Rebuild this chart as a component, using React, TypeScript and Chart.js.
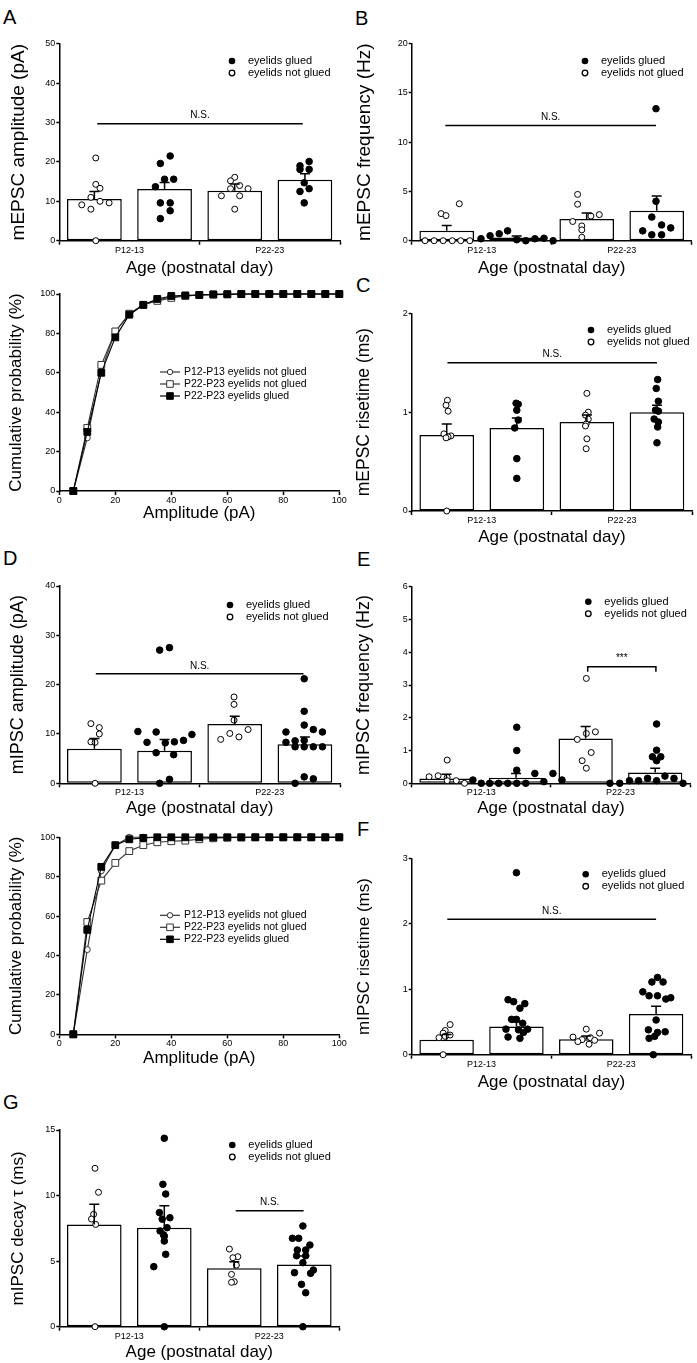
import React, { useEffect, useRef } from 'react';
import { Chart, registerables } from 'chart.js';
Chart.register(...registerables);

type Pt = [number, number];
type Area = { x0: number; x1: number; y0: number; y1: number };
type Sig = { from: number; to: number; level: number; label: string; bracket?: boolean };

const PAGE_W = 697;
const PAGE_H = 1363;
const FONT = "'Liberation Sans', Arial, Helvetica, sans-serif";
const TITLE_SIZE = 17;
const TITLE_HALF = (TITLE_SIZE * 1.2) / 2;

// ---------- shared ----------
const barPositions = [0.5, 1.5, 2.5, 3.5];
const ageTickLabels = ['P12-13', 'P22-23'];
const ageTitle = 'Age (postnatal day)';
const legendLabels = ['eyelids glued', 'eyelids not glued'];
const cumLegendLabels = ['P12-P13 eyelids not glued', 'P22-P23 eyelids not glued', 'P22-P23 eyelids glued'];

// ---------- A: mEPSC amplitude ----------
const aMeans = [10.6, 13.1, 12.7, 15.5];
const aSems = [1.9, 1.7, 1.7, 1.5];
const aNotGlued: Pt[] = [[0.52, 21.0], [0.52, 14.3], [0.58, 13.3], [0.45, 11.0], [0.58, 10.0], [0.71, 9.6], [0.32, 9.1], [0.45, 8.0], [0.52, 0],
  [2.50, 16.1], [2.44, 15.2], [2.57, 14.0], [2.44, 13.2], [2.69, 13.2], [2.31, 11.4], [2.57, 11.4], [2.50, 8.0]];
const aGlued: Pt[] = [[1.58, 21.5], [1.44, 19.6], [1.63, 15.6], [1.50, 15.6], [1.37, 13.7], [1.44, 9.6], [1.58, 9.6], [1.58, 7.6], [1.44, 5.6],
  [3.56, 20.1], [3.43, 19.0], [3.43, 18.1], [3.56, 18.1], [3.49, 14.7], [3.56, 13.2], [3.43, 12.5], [3.49, 9.6]];
const aSig: Sig = { from: 0.54, to: 3.47, level: 29.7, label: 'N.S.' };

// ---------- B: mEPSC frequency ----------
const bMeans = [1.0, 0.33, 2.2, 3.05];
const bSems = [0.55, 0.15, 0.6, 1.5];
const bNotGlued: Pt[] = [[0.19, 0], [0.32, 0], [0.45, 0], [0.58, 0], [0.70, 0], [0.83, 0], [0.42, 2.75], [0.49, 2.55], [0.68, 3.75],
  [2.37, 4.7], [2.37, 3.7], [2.30, 1.95], [2.43, 1.5], [2.43, 1.1], [2.56, 2.5], [2.68, 2.65], [2.43, 0.35]];
const bGlued: Pt[] = [[0.99, 0.2], [1.12, 0.5], [1.25, 0.7], [1.37, 1.0], [1.50, 0.1], [1.63, 0], [1.76, 0.2], [1.89, 0.25], [2.02, 0],
  [3.49, 13.4], [3.49, 4.0], [3.43, 2.4], [3.57, 1.6], [3.70, 1.3], [3.30, 1.0], [3.43, 0.6], [3.57, 0.6]];
const bSig: Sig = { from: 0.48, to: 3.49, level: 11.7, label: 'N.S.' };

// ---------- C: mEPSC risetime ----------
const cMeans = [0.77, 0.84, 0.90, 1.0];
const cSems = [0.11, 0.1, 0.07, 0.07];
const cNotGlued: Pt[] = [[0.51, 1.12], [0.49, 1.07], [0.52, 1.01], [0.46, 0.78], [0.56, 0.76], [0.52, 0.75], [0.49, 0.74], [0.50, 0],
  [2.50, 1.19], [2.52, 1.0], [2.48, 0.97], [2.52, 0.93], [2.49, 0.88], [2.48, 0.86], [2.50, 0.73], [2.49, 0.63]];
const cGlued: Pt[] = [[1.49, 1.09], [1.52, 1.08], [1.50, 1.02], [1.52, 0.92], [1.47, 0.84], [1.50, 0.53], [1.50, 0.33],
  [3.51, 1.33], [3.49, 1.24], [3.52, 1.11], [3.48, 1.02], [3.52, 1.01], [3.46, 0.93], [3.52, 0.90], [3.51, 0.85], [3.50, 0.69]];
const cSig: Sig = { from: 0.51, to: 3.5, level: 1.5, label: 'N.S.' };

// ---------- D: mIPSC amplitude ----------
const dMeans = [7.0, 6.6, 12.0, 7.9];
const dSems = [2.1, 2.3, 1.6, 1.5];
const dNotGlued: Pt[] = [[0.45, 12.1], [0.57, 11.3], [0.57, 10.0], [0.45, 8.4], [0.51, 8.3], [0.51, 0],
  [2.49, 17.5], [2.49, 16.0], [2.49, 12.8], [2.30, 8.9], [2.43, 10.1], [2.56, 9.4], [2.69, 10.9]];
const dGlued: Pt[] = [[1.12, 10.5], [1.38, 10.4], [1.25, 8.3], [1.51, 8.2], [1.64, 8.4], [1.77, 8.7], [1.89, 9.9], [1.38, 6.2], [1.63, 5.8],
  [1.57, 0.8], [1.43, 0], [1.43, 27.0], [1.57, 27.5],
  [3.49, 21.2], [3.49, 14.6], [3.23, 10.4], [3.49, 11.8], [3.62, 10.9], [3.75, 10.4], [3.23, 8.3], [3.36, 8.6], [3.49, 8.7],
  [3.36, 7.4], [3.49, 7.4], [3.62, 7.4], [3.75, 7.4], [3.49, 1.3], [3.62, 0.9], [3.36, 0]];
const dSig: Sig = { from: 0.52, to: 3.48, level: 22.2, label: 'N.S.' };

// ---------- E: mIPSC frequency ----------
const eMeans = [0.15, 0.17, 1.37, 0.33];
const eSems = [0.13, 0.13, 0.36, 0.13];
const eNotGlued: Pt[] = [[0.51, 0.71], [0.25, 0.2], [0.38, 0.23], [0.51, 0.18], [0.51, 0.08], [0.64, 0.08], [0.76, 0],
  [2.51, 3.2], [2.64, 1.57], [2.51, 1.52], [2.38, 1.34], [2.58, 0.94], [2.45, 0.69], [2.51, 0.46]];
const eGlued: Pt[] = [[0.88, 0.1], [1.0, 0], [1.12, 0], [1.25, 0], [1.38, 0], [1.51, 0], [1.64, 0], [1.51, 1.71], [1.51, 1.0], [1.51, 0.4],
  [1.77, 0.3], [1.9, 0.05], [2.03, 0.3], [2.16, 0.1],
  [2.85, 0], [2.99, 0], [3.13, 0.08], [3.26, 0.08], [3.39, 0.15], [3.52, 0.08], [3.64, 0.22], [3.77, 0.15], [3.90, 0],
  [3.52, 1.81], [3.52, 1.01], [3.46, 0.81], [3.58, 0.81], [3.52, 0.69]];
const eSig: Sig = { from: 2.53, to: 3.51, level: 3.56, label: '***', bracket: true };

// ---------- F: mIPSC risetime ----------
const fMeans = [0.23, 0.43, 0.235, 0.62];
const fSems = [0.08, 0.07, 0.05, 0.12];
const fNotGlued: Pt[] = [[0.55, 0.46], [0.48, 0.37], [0.45, 0.33], [0.55, 0.30], [0.39, 0.26], [0.48, 0.28], [0.45, 0],
  [2.50, 0.39], [2.31, 0.27], [2.44, 0.23], [2.56, 0.26], [2.69, 0.33], [2.38, 0.2], [2.54, 0.16], [2.62, 0.22]];
const fGlued: Pt[] = [[1.38, 0.84], [1.46, 0.81], [1.62, 0.78], [1.55, 0.71], [1.43, 0.54], [1.50, 0.54], [1.59, 0.48], [1.35, 0.39],
  [1.53, 0.38], [1.60, 0.34], [1.66, 0.39], [1.38, 0.27], [1.55, 0.25], [1.50, 2.78],
  [3.52, 1.18], [3.44, 1.11], [3.60, 1.11], [3.31, 0.96], [3.40, 0.90], [3.52, 0.90], [3.71, 0.87], [3.64, 0.85], [3.50, 0.53],
  [3.39, 0.38], [3.52, 0.34], [3.63, 0.35], [3.48, 0.28], [3.40, 0.25], [3.46, 0]];
const fSig: Sig = { from: 0.51, to: 3.5, level: 2.07, label: 'N.S.' };

// ---------- G: mIPSC decay tau ----------
const gMeans = [7.8, 7.55, 4.45, 4.75];
const gSems = [1.53, 1.68, 0.51, 0.64];
const gNotGlued: Pt[] = [[0.51, 12.08], [0.56, 10.25], [0.49, 8.57], [0.46, 8.21], [0.52, 7.8], [0.51, 0],
  [2.43, 5.92], [2.55, 5.34], [2.48, 5.26], [2.53, 4.7], [2.46, 3.99], [2.50, 3.43], [2.46, 3.38]];
const gGlued: Pt[] = [[1.50, 14.37], [1.48, 10.86], [1.52, 10.12], [1.43, 8.7], [1.58, 8.31], [1.47, 8.2], [1.54, 7.55], [1.44, 7.3],
  [1.49, 7.0], [1.50, 6.9], [1.50, 6.53], [1.52, 5.52], [1.35, 4.58], [1.50, 0],
  [3.48, 7.68], [3.33, 6.74], [3.42, 6.74], [3.58, 6.23], [3.40, 5.85], [3.52, 5.85], [3.52, 5.41], [3.39, 5.41], [3.48, 4.88],
  [3.63, 4.32], [3.36, 4.12], [3.59, 4.07], [3.46, 3.23], [3.52, 2.59], [3.48, 0]];
const gSig: Sig = { from: 2.52, to: 3.49, level: 8.85, label: 'N.S.' };

// ---------- cumulative probability ----------
const ampBins = [5, 10, 15, 20, 25, 30, 35, 40, 45, 50, 55, 60, 65, 70, 75, 80, 85, 90, 95, 100];
const cumA_P12NotGlued = [0, 27, 61, 81, 89.5, 94.5, 97, 98.5, 99, 99.5, 99.8, 100, 100, 100, 100, 100, 100, 100, 100, 100];
const cumA_P22NotGlued = [0, 32, 64, 81, 90, 94.5, 96.5, 98, 99, 99.5, 99.7, 99.8, 99.9, 100, 100, 100, 100, 100, 100, 100];
const cumA_P22Glued = [0, 30, 60, 78, 89.5, 94.5, 97.5, 99, 99.3, 99.5, 99.8, 99.9, 100, 100, 100, 100, 100, 100, 100, 100];
const cumD_P12NotGlued = [0, 43, 83, 96, 100, 100, 100, 100, 100, 100, 100, 100, 100, 100, 100, 100, 100, 100, 100, 100];
const cumD_P22NotGlued = [0, 57, 78, 87, 93, 96, 97.5, 98, 98.3, 99, 99.5, 99.8, 99.9, 100, 100, 100, 100, 100, 100, 100];
const cumD_P22Glued = [0, 53, 85, 96, 99, 99.7, 100, 100, 100, 100, 100, 100, 100, 100, 100, 100, 100, 100, 100, 100];

function canvasBox(area: Area, xTitleY: number, yTitleX: number, yTitleSize: number) {
  const yHalf = (yTitleSize * 1.2) / 2;
  const cl = Math.round(yTitleX - yHalf);
  const ct = Math.round(area.y0 - 12);
  const cr = Math.min(Math.round(area.x1 + 10), PAGE_W);
  const cb = Math.min(Math.round(xTitleY + TITLE_HALF + 1), PAGE_H);
  return {
    cl, ct, cr, cb,
    padding: { left: 0, top: area.y0 - ct, right: cr - area.x1, bottom: Math.max(0, cb - (xTitleY + TITLE_HALF)) },
    yWidth: area.x0 - cl,
    xHeight: xTitleY + TITLE_HALF - area.y1,
  };
}

const axisBorder = { display: true, color: '#000', width: 1.5 };
function titleOpts(text: string, size: number) {
  return { display: true, text, color: '#000', font: { family: FONT, size }, padding: 0 };
}

function BarPanel(props: {
  area: Area; xTitleY: number; yTitleX: number; yTitleSize: number; yMax: number; yStep: number; yTitle: string;
  means: number[]; sems: number[]; notGlued: Pt[]; glued: Pt[]; sig: Sig; legendAt: [number, number];
}) {
  const ref = useRef<HTMLCanvasElement>(null);
  const { area, xTitleY, yTitleX, yTitleSize, yMax, yStep, yTitle, means, sems, notGlued, glued, sig, legendAt } = props;
  const box = canvasBox(area, xTitleY, yTitleX, yTitleSize);
  const W = box.cr - box.cl;
  const H = box.cb - box.ct;

  useEffect(() => {
    const extras = {
      id: 'extras',
      afterDatasetsDraw(chart: any) {
        const { ctx, scales, chartArea } = chart;
        const x = scales.x, y = scales.y;
        ctx.save();
        ctx.strokeStyle = '#000';
        ctx.fillStyle = '#000';
        ctx.lineWidth = 1.5;
        means.forEach((m, i) => {
          const px = x.getPixelForValue(barPositions[i]);
          const py0 = y.getPixelForValue(m);
          const py1 = y.getPixelForValue(m + sems[i]);
          ctx.beginPath();
          ctx.moveTo(px, py0);
          ctx.lineTo(px, py1);
          ctx.moveTo(px - 5, py1);
          ctx.lineTo(px + 5, py1);
          ctx.stroke();
        });
        const sx1 = x.getPixelForValue(sig.from);
        const sx2 = x.getPixelForValue(sig.to);
        const sy = y.getPixelForValue(sig.level);
        ctx.beginPath();
        if (sig.bracket) {
          ctx.moveTo(sx1, sy + 5);
          ctx.lineTo(sx1, sy);
          ctx.lineTo(sx2, sy);
          ctx.lineTo(sx2, sy + 5);
        } else {
          ctx.moveTo(sx1, sy);
          ctx.lineTo(sx2, sy);
        }
        ctx.stroke();
        ctx.font = `10px ${FONT}`;
        ctx.textAlign = 'center';
        ctx.textBaseline = 'bottom';
        ctx.fillText(sig.label, (sx1 + sx2) / 2, sy - 3);
        const lx = chartArea.left + legendAt[0];
        const ly = chartArea.top + legendAt[1];
        ctx.font = `11px ${FONT}`;
        ctx.textAlign = 'left';
        ctx.textBaseline = 'middle';
        ctx.beginPath();
        ctx.arc(lx, ly, 3.3, 0, Math.PI * 2);
        ctx.fill();
        ctx.fillText(legendLabels[0], lx + 16, ly);
        ctx.beginPath();
        ctx.lineWidth = 1.3;
        ctx.arc(lx, ly + 12, 2.8, 0, Math.PI * 2);
        ctx.stroke();
        ctx.fillText(legendLabels[1], lx + 16, ly + 12);
        ctx.restore();
      },
    };

    const chart = new Chart(ref.current as HTMLCanvasElement, {
      type: 'bar',
      data: {
        datasets: [
          {
            type: 'scatter',
            data: glued.map(([px, py]) => ({ x: px, y: py })),
            pointRadius: 3.3,
            pointBackgroundColor: '#000',
            pointBorderColor: '#000',
            pointBorderWidth: 1,
            showLine: false,
            clip: false,
            order: 1,
          } as any,
          {
            type: 'scatter',
            data: notGlued.map(([px, py]) => ({ x: px, y: py })),
            pointRadius: 3,
            pointBackgroundColor: '#fff',
            pointBorderColor: '#000',
            pointBorderWidth: 1,
            showLine: false,
            clip: false,
            order: 2,
          } as any,
          {
            type: 'bar',
            data: barPositions.map((px, i) => ({ x: px, y: means[i] })),
            backgroundColor: '#fff',
            borderColor: '#000',
            borderWidth: 1.5,
            borderSkipped: false,
            barPercentage: 0.78,
            categoryPercentage: 1,
            order: 5,
          } as any,
        ],
      },
      options: {
        animation: false,
        responsive: false,
        maintainAspectRatio: false,
        events: [],
        layout: { padding: box.padding },
        plugins: { legend: { display: false }, tooltip: { enabled: false } },
        scales: {
          x: {
            type: 'linear',
            min: 0,
            max: 4,
            offset: false,
            grid: {
              display: true, drawOnChartArea: false, drawTicks: true, tickLength: 4, offset: false, tickWidth: 1.5,
              color: '#000',
              tickColor: (c: any) => (c.tick && (c.tick.value === 1 || c.tick.value === 3)) ? 'rgba(0,0,0,0)' : '#000',
            },
            border: axisBorder,
            ticks: {
              stepSize: 1, autoSkip: false, maxRotation: 0, minRotation: 0, padding: 0, color: '#000',
              font: { family: FONT, size: 9 },
              callback: (v: any) => (v === 1 ? ageTickLabels[0] : v === 3 ? ageTickLabels[1] : ''),
            },
            title: titleOpts(ageTitle, TITLE_SIZE),
            afterFit: (s: any) => { s.height = box.xHeight; },
          },
          y: {
            type: 'linear',
            min: 0,
            max: yMax,
            grid: { display: true, drawOnChartArea: false, drawTicks: true, tickLength: 3, color: '#000', tickColor: '#000', tickWidth: 1.5 },
            border: axisBorder,
            ticks: { stepSize: yStep, padding: 1, color: '#000', font: { family: FONT, size: 9 } },
            title: titleOpts(yTitle, yTitleSize),
            afterFit: (s: any) => { s.width = box.yWidth; },
          },
        },
      } as any,
      plugins: [extras],
    });
    return () => chart.destroy();
  }, []);

  return (
    <canvas
      ref={ref}
      width={W}
      height={H}
      style={{ position: 'absolute', left: box.cl, top: box.ct, width: W, height: H }}
    />
  );
}

function CumPanel(props: {
  area: Area; xTitleY: number; yTitleX: number; p12NotGlued: number[]; p22NotGlued: number[]; p22Glued: number[];
}) {
  const ref = useRef<HTMLCanvasElement>(null);
  const { area, xTitleY, yTitleX, p12NotGlued, p22NotGlued, p22Glued } = props;
  const box = canvasBox(area, xTitleY, yTitleX, TITLE_SIZE);
  const W = box.cr - box.cl;
  const H = box.cb - box.ct;

  useEffect(() => {
    const styles = [
      { color: '#333', shape: 'circle', fill: '#fff' },
      { color: '#333', shape: 'rect', fill: '#fff' },
      { color: '#000', shape: 'rect', fill: '#000' },
    ];
    const legendPlugin = {
      id: 'cumLegend',
      afterDraw(chart: any) {
        const { ctx, chartArea } = chart;
        ctx.save();
        ctx.font = `10.5px ${FONT}`;
        ctx.textAlign = 'left';
        ctx.textBaseline = 'middle';
        cumLegendLabels.forEach((label, i) => {
          const y = chartArea.top + 78 + 12 * i;
          const x0 = chartArea.left + 100.7;
          const st = styles[i];
          ctx.strokeStyle = st.color;
          ctx.lineWidth = 1.2;
          ctx.beginPath();
          ctx.moveTo(x0, y);
          ctx.lineTo(x0 + 20, y);
          ctx.stroke();
          ctx.fillStyle = st.fill;
          ctx.lineWidth = 1;
          ctx.beginPath();
          if (st.shape === 'circle') ctx.arc(x0 + 10, y, 2.7, 0, Math.PI * 2);
          else ctx.rect(x0 + 10 - 3.3, y - 3.3, 6.6, 6.6);
          ctx.fill();
          ctx.stroke();
          ctx.fillStyle = '#000';
          ctx.fillText(label, x0 + 24, y);
        });
        ctx.restore();
      },
    };
    const mk = (vals: number[], i: number, order: number) => ({
      data: ampBins.map((b, k) => ({ x: b, y: vals[k] })),
      borderColor: styles[i].color,
      borderWidth: 1.1,
      pointStyle: styles[i].shape,
      pointRadius: styles[i].shape === 'rect' ? 4.8 : 3,
      pointBackgroundColor: styles[i].fill,
      pointBorderColor: styles[i].color,
      pointBorderWidth: 1,
      tension: 0,
      clip: false,
      order,
    });
    const chart = new Chart(ref.current as HTMLCanvasElement, {
      type: 'line',
      data: {
        datasets: [mk(p12NotGlued, 0, 3), mk(p22NotGlued, 1, 2), mk(p22Glued, 2, 1)] as any,
      },
      options: {
        animation: false,
        responsive: false,
        maintainAspectRatio: false,
        events: [],
        layout: { padding: box.padding },
        plugins: { legend: { display: false }, tooltip: { enabled: false } },
        scales: {
          x: {
            type: 'linear', min: 0, max: 100,
            grid: { display: true, drawOnChartArea: false, drawTicks: true, tickLength: 4, color: '#000', tickColor: '#000', tickWidth: 1.5 },
            border: axisBorder,
            ticks: { stepSize: 20, autoSkip: false, maxRotation: 0, padding: 0, color: '#000', font: { family: FONT, size: 9 } },
            title: titleOpts('Amplitude (pA)', TITLE_SIZE),
            afterFit: (s: any) => { s.height = box.xHeight; },
          },
          y: {
            type: 'linear', min: 0, max: 100,
            grid: { display: true, drawOnChartArea: false, drawTicks: true, tickLength: 3, color: '#000', tickColor: '#000', tickWidth: 1.5 },
            border: axisBorder,
            ticks: { stepSize: 20, padding: 1, color: '#000', font: { family: FONT, size: 9 } },
            title: titleOpts('Cumulative probability (%)', TITLE_SIZE),
            afterFit: (s: any) => { s.width = box.yWidth; },
          },
        },
      } as any,
      plugins: [legendPlugin],
    });
    return () => chart.destroy();
  }, []);

  return (
    <canvas
      ref={ref}
      width={W}
      height={H}
      style={{ position: 'absolute', left: box.cl, top: box.ct, width: W, height: H }}
    />
  );
}

function Letter({ text, left, top }: { text: string; left: number; top: number }) {
  return (
    <div style={{ position: 'absolute', left, top, fontFamily: FONT, fontSize: 20, lineHeight: '20px', color: '#000' }}>
      {text}
    </div>
  );
}

export default function App() {
  return (
    <div style={{ position: 'absolute', left: 0, top: 0, width: PAGE_W, height: PAGE_H, overflow: 'hidden', background: '#fff' }}>
      <Letter text="A" left={3} top={7} />
      <Letter text="B" left={355} top={8} />
      <Letter text="C" left={356} top={275} />
      <Letter text="D" left={3} top={548} />
      <Letter text="E" left={357} top={549} />
      <Letter text="F" left={357} top={819} />
      <Letter text="G" left={3} top={1092} />

      <BarPanel area={{ x0: 59.3, x1: 340, y0: 43.7, y1: 240.7 }} xTitleY={268.3} yTitleX={18} yTitleSize={19} yMax={50} yStep={10}
        yTitle="mEPSC amplitude (pA)" means={aMeans} sems={aSems} notGlued={aNotGlued} glued={aGlued} sig={aSig} legendAt={[172.7, 17.3]} />
      <BarPanel area={{ x0: 411.7, x1: 691.7, y0: 43.7, y1: 240.7 }} xTitleY={268.3} yTitleX={364} yTitleSize={19} yMax={20} yStep={5}
        yTitle="mEPSC frequency (Hz)" means={bMeans} sems={bSems} notGlued={bNotGlued} glued={bGlued} sig={bSig} legendAt={[173.3, 17.3]} />
      <CumPanel area={{ x0: 59.3, x1: 339.3, y0: 294, y1: 491 }} xTitleY={513.3} yTitleX={16}
        p12NotGlued={cumA_P12NotGlued} p22NotGlued={cumA_P22NotGlued} p22Glued={cumA_P22Glued} />
      <BarPanel area={{ x0: 411.7, x1: 692.7, y0: 313.3, y1: 511 }} xTitleY={537.3} yTitleX={364} yTitleSize={17.5} yMax={2} yStep={1}
        yTitle="mEPSC risetime (ms)" means={cMeans} sems={cSems} notGlued={cNotGlued} glued={cGlued} sig={cSig} legendAt={[179.3, 16.7]} />
      <BarPanel area={{ x0: 59.3, x1: 340, y0: 586, y1: 783.3 }} xTitleY={808.3} yTitleX={18} yTitleSize={18} yMax={40} yStep={10}
        yTitle="mIPSC amplitude (pA)" means={dMeans} sems={dSems} notGlued={dNotGlued} glued={dGlued} sig={dSig} legendAt={[170.7, 19]} />
      <BarPanel area={{ x0: 411.7, x1: 690, y0: 586.7, y1: 783.3 }} xTitleY={808.3} yTitleX={364} yTitleSize={18} yMax={6} yStep={1}
        yTitle="mIPSC frequency (Hz)" means={eMeans} sems={eSems} notGlued={eNotGlued} glued={eGlued} sig={eSig} legendAt={[176.6, 15]} />
      <CumPanel area={{ x0: 59.3, x1: 339.3, y0: 837.3, y1: 1034.3 }} xTitleY={1058.3} yTitleX={16}
        p12NotGlued={cumD_P12NotGlued} p22NotGlued={cumD_P22NotGlued} p22Glued={cumD_P22Glued} />
      <BarPanel area={{ x0: 411.7, x1: 691, y0: 858.3, y1: 1054.7 }} xTitleY={1082} yTitleX={364} yTitleSize={17} yMax={3} yStep={1}
        yTitle="mIPSC risetime (ms)" means={fMeans} sems={fSems} notGlued={fNotGlued} glued={fGlued} sig={fSig} legendAt={[174, 16]} />
      <BarPanel area={{ x0: 59.3, x1: 339.3, y0: 1130, y1: 1326.7 }} xTitleY={1352.3} yTitleX={18} yTitleSize={17} yMax={15} yStep={5}
        yTitle="mIPSC decay τ (ms)" means={gMeans} sems={gSems} notGlued={gNotGlued} glued={gGlued} sig={gSig} legendAt={[173, 15]} />
    </div>
  );
}
